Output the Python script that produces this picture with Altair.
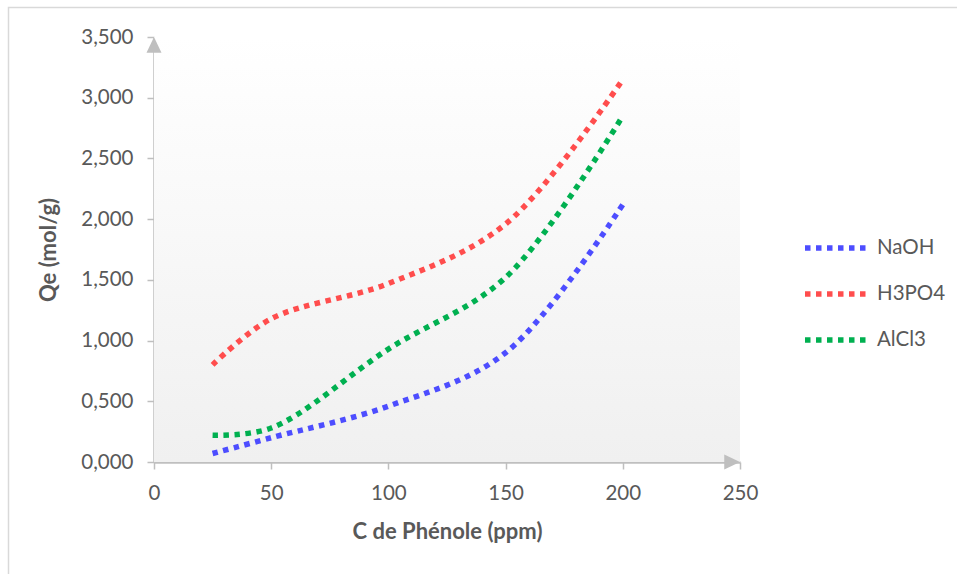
import altair as alt
import pandas as pd

# Phenol concentration (ppm) and adsorbed quantity for each activating agent
c_phenol = [25, 50, 100, 150, 200]
qe_naoh = [0.07, 0.20, 0.46, 0.90, 2.12]
qe_h3po4 = [0.80, 1.18, 1.47, 1.96, 3.15]
qe_alcl3 = [0.22, 0.28, 0.93, 1.52, 2.85]

series_names = ["NaOH", "H3PO4", "AlCl3"]
series_colors = ["#4d4dff", "#ff4d4d", "#00b050"]

x_ticks = [0, 50, 100, 150, 200, 250]
y_ticks = [0, 0.5, 1.0, 1.5, 2.0, 2.5, 3.0, 3.5]

rows = []
for name, values in zip(series_names, [qe_naoh, qe_h3po4, qe_alcl3]):
    for c, q in zip(c_phenol, values):
        rows.append({"serie": name, "C": c, "Qe": q})
df = pd.DataFrame(rows)

GRID = "#bfbfbf"
TEXT = "#595959"
FONT = "Lato"

x_scale = alt.Scale(domain=[0, 250], nice=False)
y_scale = alt.Scale(domain=[0, 3.5], nice=False)

# plot-area background: soft vertical gradient
panel = alt.Chart().mark_rect(
    fill=alt.Gradient(
        gradient="linear",
        stops=[alt.GradientStop(offset=0, color="#ffffff"),
               alt.GradientStop(offset=1, color="#f0f0f0")],
        x1=0, x2=0, y1=0, y2=1,
    )
).encode(
    x=alt.datum(0, scale=x_scale), x2=alt.datum(250),
    y=alt.datum(0, scale=y_scale), y2=alt.datum(3.5),
)

# thin frame around the whole chart area
frame = alt.Chart().mark_rect(
    fill=None, stroke="#d9d9d9", strokeWidth=1.5
).encode(
    x=alt.value(-145.5), x2=alt.value(830),
    y=alt.value(-29.5), y2=alt.value(560),
)

lines = alt.Chart(df).mark_line(
    interpolate="catmull-rom",
    strokeWidth=5.5,
    strokeDash=[5.5, 5.5],
    strokeCap="butt",
).encode(
    x=alt.X("C:Q", scale=x_scale,
            axis=alt.Axis(title="C de Phénole (ppm)", values=x_ticks,
                          format="d", labelFlush=False, titlePadding=18)),
    y=alt.Y("Qe:Q", scale=y_scale,
            axis=alt.Axis(title="Qe (mol/g)", values=y_ticks,
                          labelExpr="replace(format(datum.value, '.3f'), '.', ',')",
                          labelFlush=False, titlePadding=20)),
    color=alt.Color(
        "serie:N",
        scale=alt.Scale(domain=series_names, range=series_colors),
        sort=series_names,
        legend=alt.Legend(
            title=None, orient="none", legendX=648, legendY=176,
            symbolType="stroke", symbolSize=4096, symbolStrokeWidth=5.5,
            symbolDash=[5.5, 5.5], labelFont=FONT, labelFontSize=20.5,
            labelColor=TEXT, labelOffset=5, rowPadding=0,
        ),
    ),
    detail="serie:N",
)

# arrow heads at the end of both axes
y_arrow = alt.Chart().mark_point(
    shape="M0,0L-1,2.1L1,2.1Z", filled=True, color=GRID, size=225, opacity=1
).encode(x=alt.datum(0, scale=x_scale), y=alt.datum(3.5, scale=y_scale))

x_arrow = alt.Chart().mark_point(
    shape="M0,0L-2.1,-1L-2.1,1Z", filled=True, color=GRID, size=225, opacity=1
).encode(x=alt.datum(250, scale=x_scale), y=alt.datum(0, scale=y_scale))

chart = alt.layer(frame, panel, lines, y_arrow, x_arrow).properties(
    width=586,
    height=425,
    autosize=alt.AutoSizeParams(type="none"),
    padding={"left": 154, "top": 37, "right": 217, "bottom": 112},
    background="#ffffff",
).configure_view(
    stroke=None
).configure_axis(
    grid=False,
    domainColor=GRID,
    domainWidth=2.5,
    tickColor=GRID,
    tickWidth=1.5,
    tickSize=7,
    labelFont=FONT,
    labelFontSize=20.5,
    labelColor=TEXT,
    labelPadding=14,
    titleFont=FONT,
    titleFontSize=22,
    titleFontWeight="bold",
    titleColor=TEXT,
)

chart.save("out.html", embed_options={"renderer": "svg", "actions": False})
